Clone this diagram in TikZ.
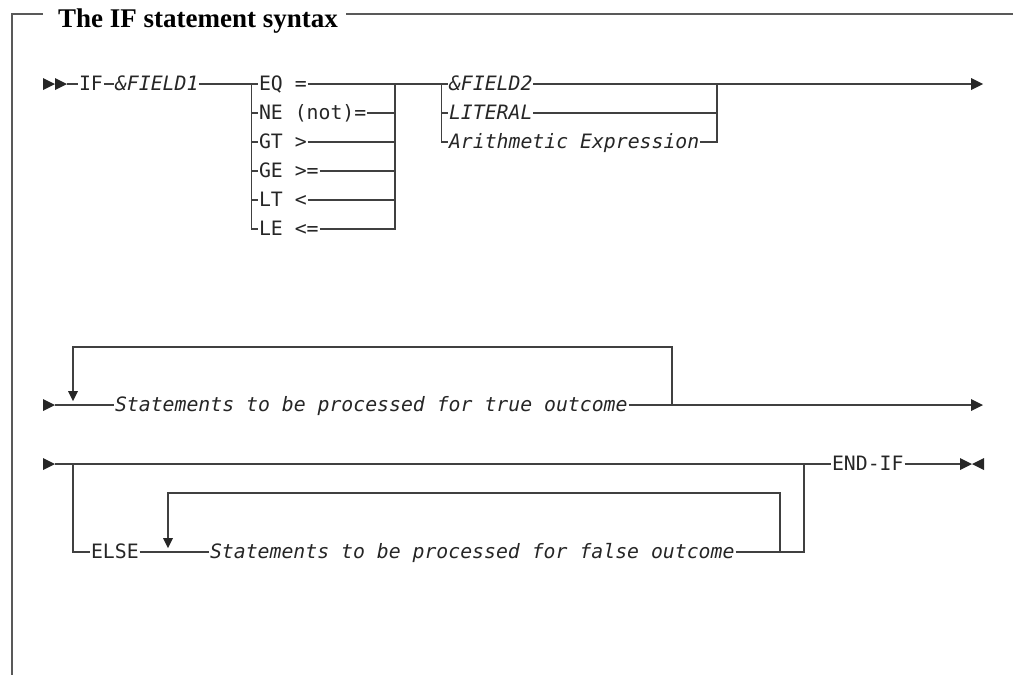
\documentclass[tikz,border=0pt]{standalone}
\usepackage{fontspec}
\setmainfont{Liberation Serif}
\newfontfamily\monofam{DejaVu Sans Mono}
\begin{document}
\begin{tikzpicture}[x=1pt,y=-1pt,
  ln/.style={draw=black!75, line width=1.2pt},
  frm/.style={draw=black!65, line width=1.6pt},
  tip/.style={fill=black!85},
  kw/.style={anchor=west, inner xsep=1pt, inner ysep=0pt, outer sep=0pt, text height=15pt, text depth=3pt,
    font=\monofam\fontsize{19.8}{20}\selectfont, text=black!85},
  var/.style={kw, font=\monofam\itshape\fontsize{19.8}{20}\selectfont},
  ttl/.style={anchor=base west, inner sep=0pt, font=\bfseries\fontsize{27}{28}\selectfont}
]
\useasboundingbox (0,0) rectangle (1013,675);

% frame and title
\node[ttl] (title) at (58,27) {The IF statement syntax};
\coordinate (fb) at (12,675);
\coordinate (ftl) at (12,14);
\coordinate (ftr) at (1013,14);
\draw[frm] (fb) -- (ftl) -- ([xshift=-15pt]title.west |- ftl);
\draw[frm] ([xshift=8pt]title.east |- ftr) -- (ftr);

% ---------- row 1 ----------
\coordinate (s1e) at (67,84);
\fill[tip] (43,78) -- (55,84) -- (43,90) -- cycle;
\fill[tip] (55,78) -- (67,84) -- (55,90) -- cycle;
\node[kw]  (if) at (78,84) {IF};
\node[var] (f1) at (114,84) {\&FIELD1};
\coordinate (j1) at (251.25,84);
\node[kw] (eq) at (258,84)  {EQ =};
\node[kw] (ne) at (258,113) {NE (not)=};
\node[kw] (gt) at (258,142) {GT >};
\node[kw] (ge) at (258,171) {GE >=};
\node[kw] (lt) at (258,200) {LT <};
\node[kw] (le) at (258,229) {LE <=};
\coordinate (j2) at (395,84);
\coordinate (j3) at (441.6,84);
\node[var] (f2)  at (448,84)  {\&FIELD2};
\node[var] (lit) at (448,113) {LITERAL};
\node[var] (ae)  at (448,142) {Arithmetic Expression};
\coordinate (j4) at (717,84);
\coordinate (e1) at (971,84);
\fill[tip] (971,78) -- (983,84) -- (971,90) -- cycle;

\draw[ln] (s1e) -- (if.west);
\draw[ln] (if.east) -- (f1.west);
\draw[ln] (f1.east) -- (eq.west);
\draw[ln] (j1) -- (j1 |- le.west) -- (le.west);
\foreach \n in {ne,gt,ge,lt} \draw[ln] (j1 |- \n.west) -- (\n.west);
\foreach \n in {eq,ne,gt,ge,lt} \draw[ln] (\n.east) -- (j2 |- \n.east);
\draw[ln] (le.east) -- (j2 |- le.east) -- (j2);
\draw[ln] (j2) -- (f2.west);
\draw[ln] (j3) -- (j3 |- ae.west) -- (ae.west);
\draw[ln] (j3 |- lit.west) -- (lit.west);
\draw[ln] (f2.east) -- (j4);
\draw[ln] (lit.east) -- (j4 |- lit.east);
\draw[ln] (ae.east) -- (j4 |- ae.east) -- (j4);
\draw[ln] (j4) -- (e1);

% ---------- row 2 ----------
\coordinate (s2e) at (55,405);
\fill[tip] (43,399) -- (55,405) -- (43,411) -- cycle;
\node[var] (st) at (114,405) {Statements to be processed for true outcome};
\coordinate (l2a) at (73,347);
\coordinate (l2b) at (672,347);
\coordinate (l2c) at (672,405);
\coordinate (l2d) at (73,391);
\coordinate (e2) at (971,405);
\fill[tip] (971,399) -- (983,405) -- (971,411) -- cycle;
\fill[tip] (68,391) -- (78,391) -- (73,401) -- cycle;
\draw[ln] (s2e) -- (st.west);
\draw[ln] (st.east) -- (l2c) -- (e2);
\draw[ln] (l2c) -- (l2b) -- (l2a) -- (l2d);

% ---------- row 3 ----------
\coordinate (s3e) at (55,464);
\fill[tip] (43,458) -- (55,464) -- (43,470) -- cycle;
\coordinate (b3) at (73,464);
\node[kw]  (els) at (90,552) {ELSE};
\node[var] (sf)  at (209,552) {Statements to be processed for false outcome};
\coordinate (l3a) at (168,493);
\coordinate (l3b) at (780,493);
\coordinate (l3c) at (780,552);
\coordinate (l3d) at (168,538);
\coordinate (j5) at (804,464);
\node[kw] (endif) at (831,464) {END-IF};
\coordinate (e3) at (960,464);
\fill[tip] (960,458) -- (972,464) -- (960,470) -- cycle;
\fill[tip] (984,458) -- (972,464) -- (984,470) -- cycle;
\fill[tip] (163,538) -- (173,538) -- (168,548) -- cycle;

\draw[ln] (s3e) -- (endif.west);
\draw[ln] (b3) -- (b3 |- els.west) -- (els.west);
\draw[ln] (els.east) -- (sf.west);
\draw[ln] (sf.east) -- (l3c) -- (j5 |- sf.east) -- (j5);
\draw[ln] (l3c) -- (l3b) -- (l3a) -- (l3d);
\draw[ln] (endif.east) -- (e3);
\end{tikzpicture}
\end{document}
